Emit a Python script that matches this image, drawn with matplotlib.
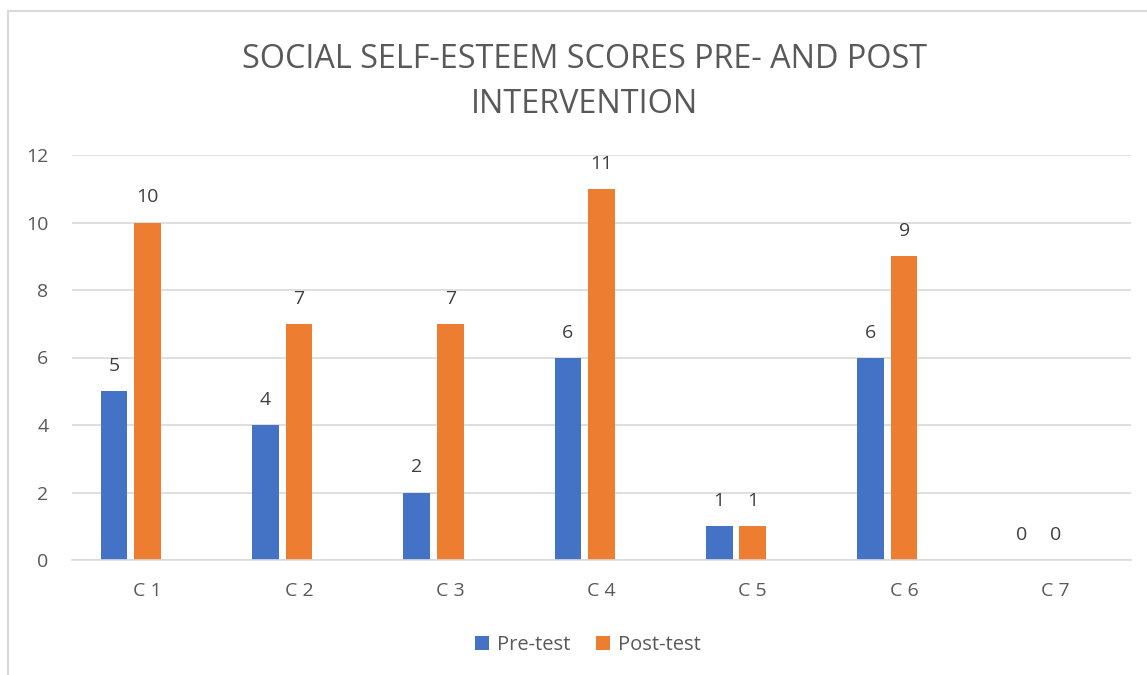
import matplotlib.pyplot as plt
from matplotlib.lines import Line2D
import numpy as np

categories = ['C 1', 'C 2', 'C 3', 'C 4', 'C 5', 'C 6', 'C 7']
pre_test = [5, 4, 2, 6, 1, 6, 0]
post_test = [10, 7, 7, 11, 1, 9, 0]
y_ticks = [0, 2, 4, 6, 8, 10, 12]

plt.rcParams['font.family'] = ['Open Sans', 'DejaVu Sans']
grey = '#595959'
label_grey = '#404040'
line_grey = '#D9D9D9'

W, H = 1147, 675
fig = plt.figure(figsize=(W / 100, H / 100), dpi=100)

# chart frame (cut off at right / bottom in the original)
fig.add_artist(Line2D([8 / W, 8 / W], [0, 1 - 11 / H], color=line_grey, lw=1.5))
fig.add_artist(Line2D([8 / W, 1], [1 - 11 / H, 1 - 11 / H], color=line_grey, lw=1.5))

ax = fig.add_axes([72 / W, 1 - 560 / H, 1059 / W, 405 / H])
x = np.arange(len(categories))
w = 0.176
bars_pre = ax.bar(x - 0.222, pre_test, w, color='#4472C4', label='Pre-test', zorder=2)
bars_post = ax.bar(x, post_test, w, color='#ED7D31', label='Post-test', zorder=2)

for bars, vals in [(bars_pre, pre_test), (bars_post, post_test)]:
    for b, v in zip(bars, vals):
        ax.annotate(str(v), (b.get_x() + b.get_width() / 2, v), xytext=(0, 18),
                    textcoords='offset points', ha='center', va='center',
                    fontsize=14, color=label_grey)

ax.set_xlim(-0.5, len(categories) - 0.5)
ax.set_ylim(0, 12)
ax.set_yticks(y_ticks)
ax.set_xticks(x)
ax.set_xticklabels(categories)
ax.tick_params(axis='both', length=0, labelsize=14, labelcolor=grey)
ax.tick_params(axis='y', pad=17)
ax.tick_params(axis='x', pad=16)
ax.grid(axis='y', color=line_grey, lw=1.2, zorder=0)
ax.set_axisbelow(True)
for s in ['top', 'right', 'left']:
    ax.spines[s].set_visible(False)
ax.spines['bottom'].set_color(line_grey)
ax.spines['bottom'].set_linewidth(1.2)

fig.text(585 / W, 1 - 82 / H, 'SOCIAL SELF-ESTEEM SCORES PRE- AND POST\nINTERVENTION',
         ha='center', va='center', fontsize=23.3, color=grey, linespacing=1.45)

fig.legend(loc='center', bbox_to_anchor=(588 / W, 1 - 645 / H), ncol=2, frameon=False,
           handlelength=0.7, handleheight=0.7, handletextpad=0.4, columnspacing=1.3,
           fontsize=14.5, labelcolor=grey)

fig.savefig('out.png', dpi=100)
